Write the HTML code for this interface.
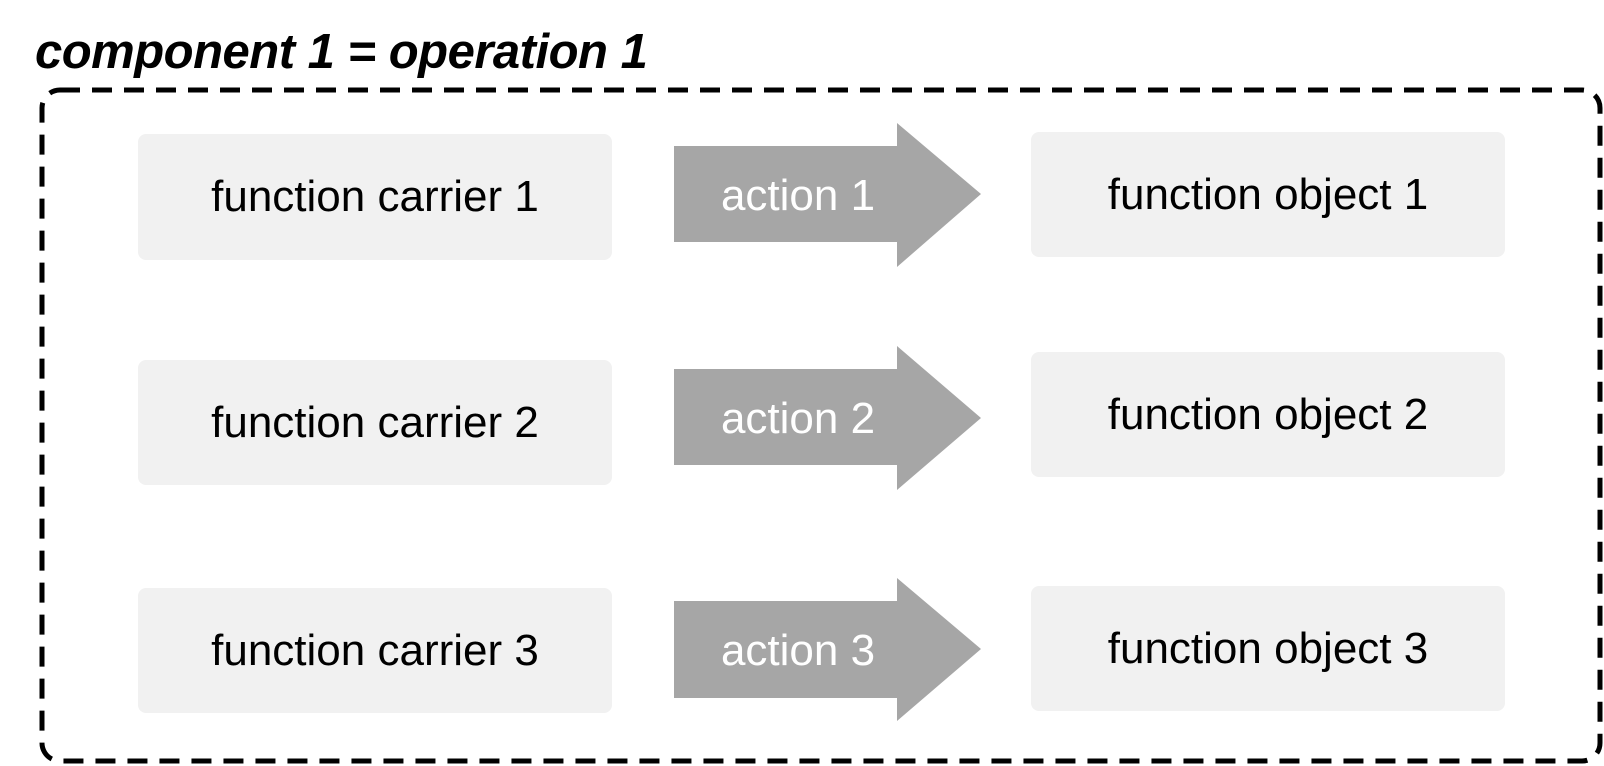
<!DOCTYPE html>
<html><head><style>
body{margin:0;width:1604px;height:766px;background:#fff;position:relative;overflow:hidden;font-family:"Liberation Sans",sans-serif;}
.t{position:absolute;left:35px;top:24px;font-size:49px;line-height:56px;font-weight:bold;font-style:italic;letter-spacing:-0.5px;color:#000;}
.b{position:absolute;background:#f1f1f1;border-radius:8px;display:flex;align-items:center;justify-content:center;font-size:44px;color:#000;}
</style></head><body>
<div class="t">component 1 = operation 1</div>
<svg width="1604" height="766" style="position:absolute;left:0;top:0">
<rect x="42" y="90" width="1558" height="671" rx="18" fill="none" stroke="#000" stroke-width="5" stroke-dasharray="20,12"/>
<polygon points="674,146 897,146 897,123 981,194 897,267 897,242 674,242" fill="#a6a6a6"/>
<polygon points="674,369 897,369 897,346 981,418 897,490 897,465 674,465" fill="#a6a6a6"/>
<polygon points="674,601 897,601 897,578 981,649 897,721 897,698 674,698" fill="#a6a6a6"/>
<text x="798" y="210" fill="#fff" font-size="44" text-anchor="middle" font-family="Liberation Sans, sans-serif">action 1</text>
<text x="798" y="433" fill="#fff" font-size="44" text-anchor="middle" font-family="Liberation Sans, sans-serif">action 2</text>
<text x="798" y="665" fill="#fff" font-size="44" text-anchor="middle" font-family="Liberation Sans, sans-serif">action 3</text>
</svg>
<div class="b" style="left:138px;top:134px;width:474px;height:126px">function carrier 1</div>
<div class="b" style="left:138px;top:360px;width:474px;height:125px">function carrier 2</div>
<div class="b" style="left:138px;top:588px;width:474px;height:125px">function carrier 3</div>
<div class="b" style="left:1031px;top:132px;width:474px;height:125px">function object 1</div>
<div class="b" style="left:1031px;top:352px;width:474px;height:125px">function object 2</div>
<div class="b" style="left:1031px;top:586px;width:474px;height:125px">function object 3</div>
</body></html>
